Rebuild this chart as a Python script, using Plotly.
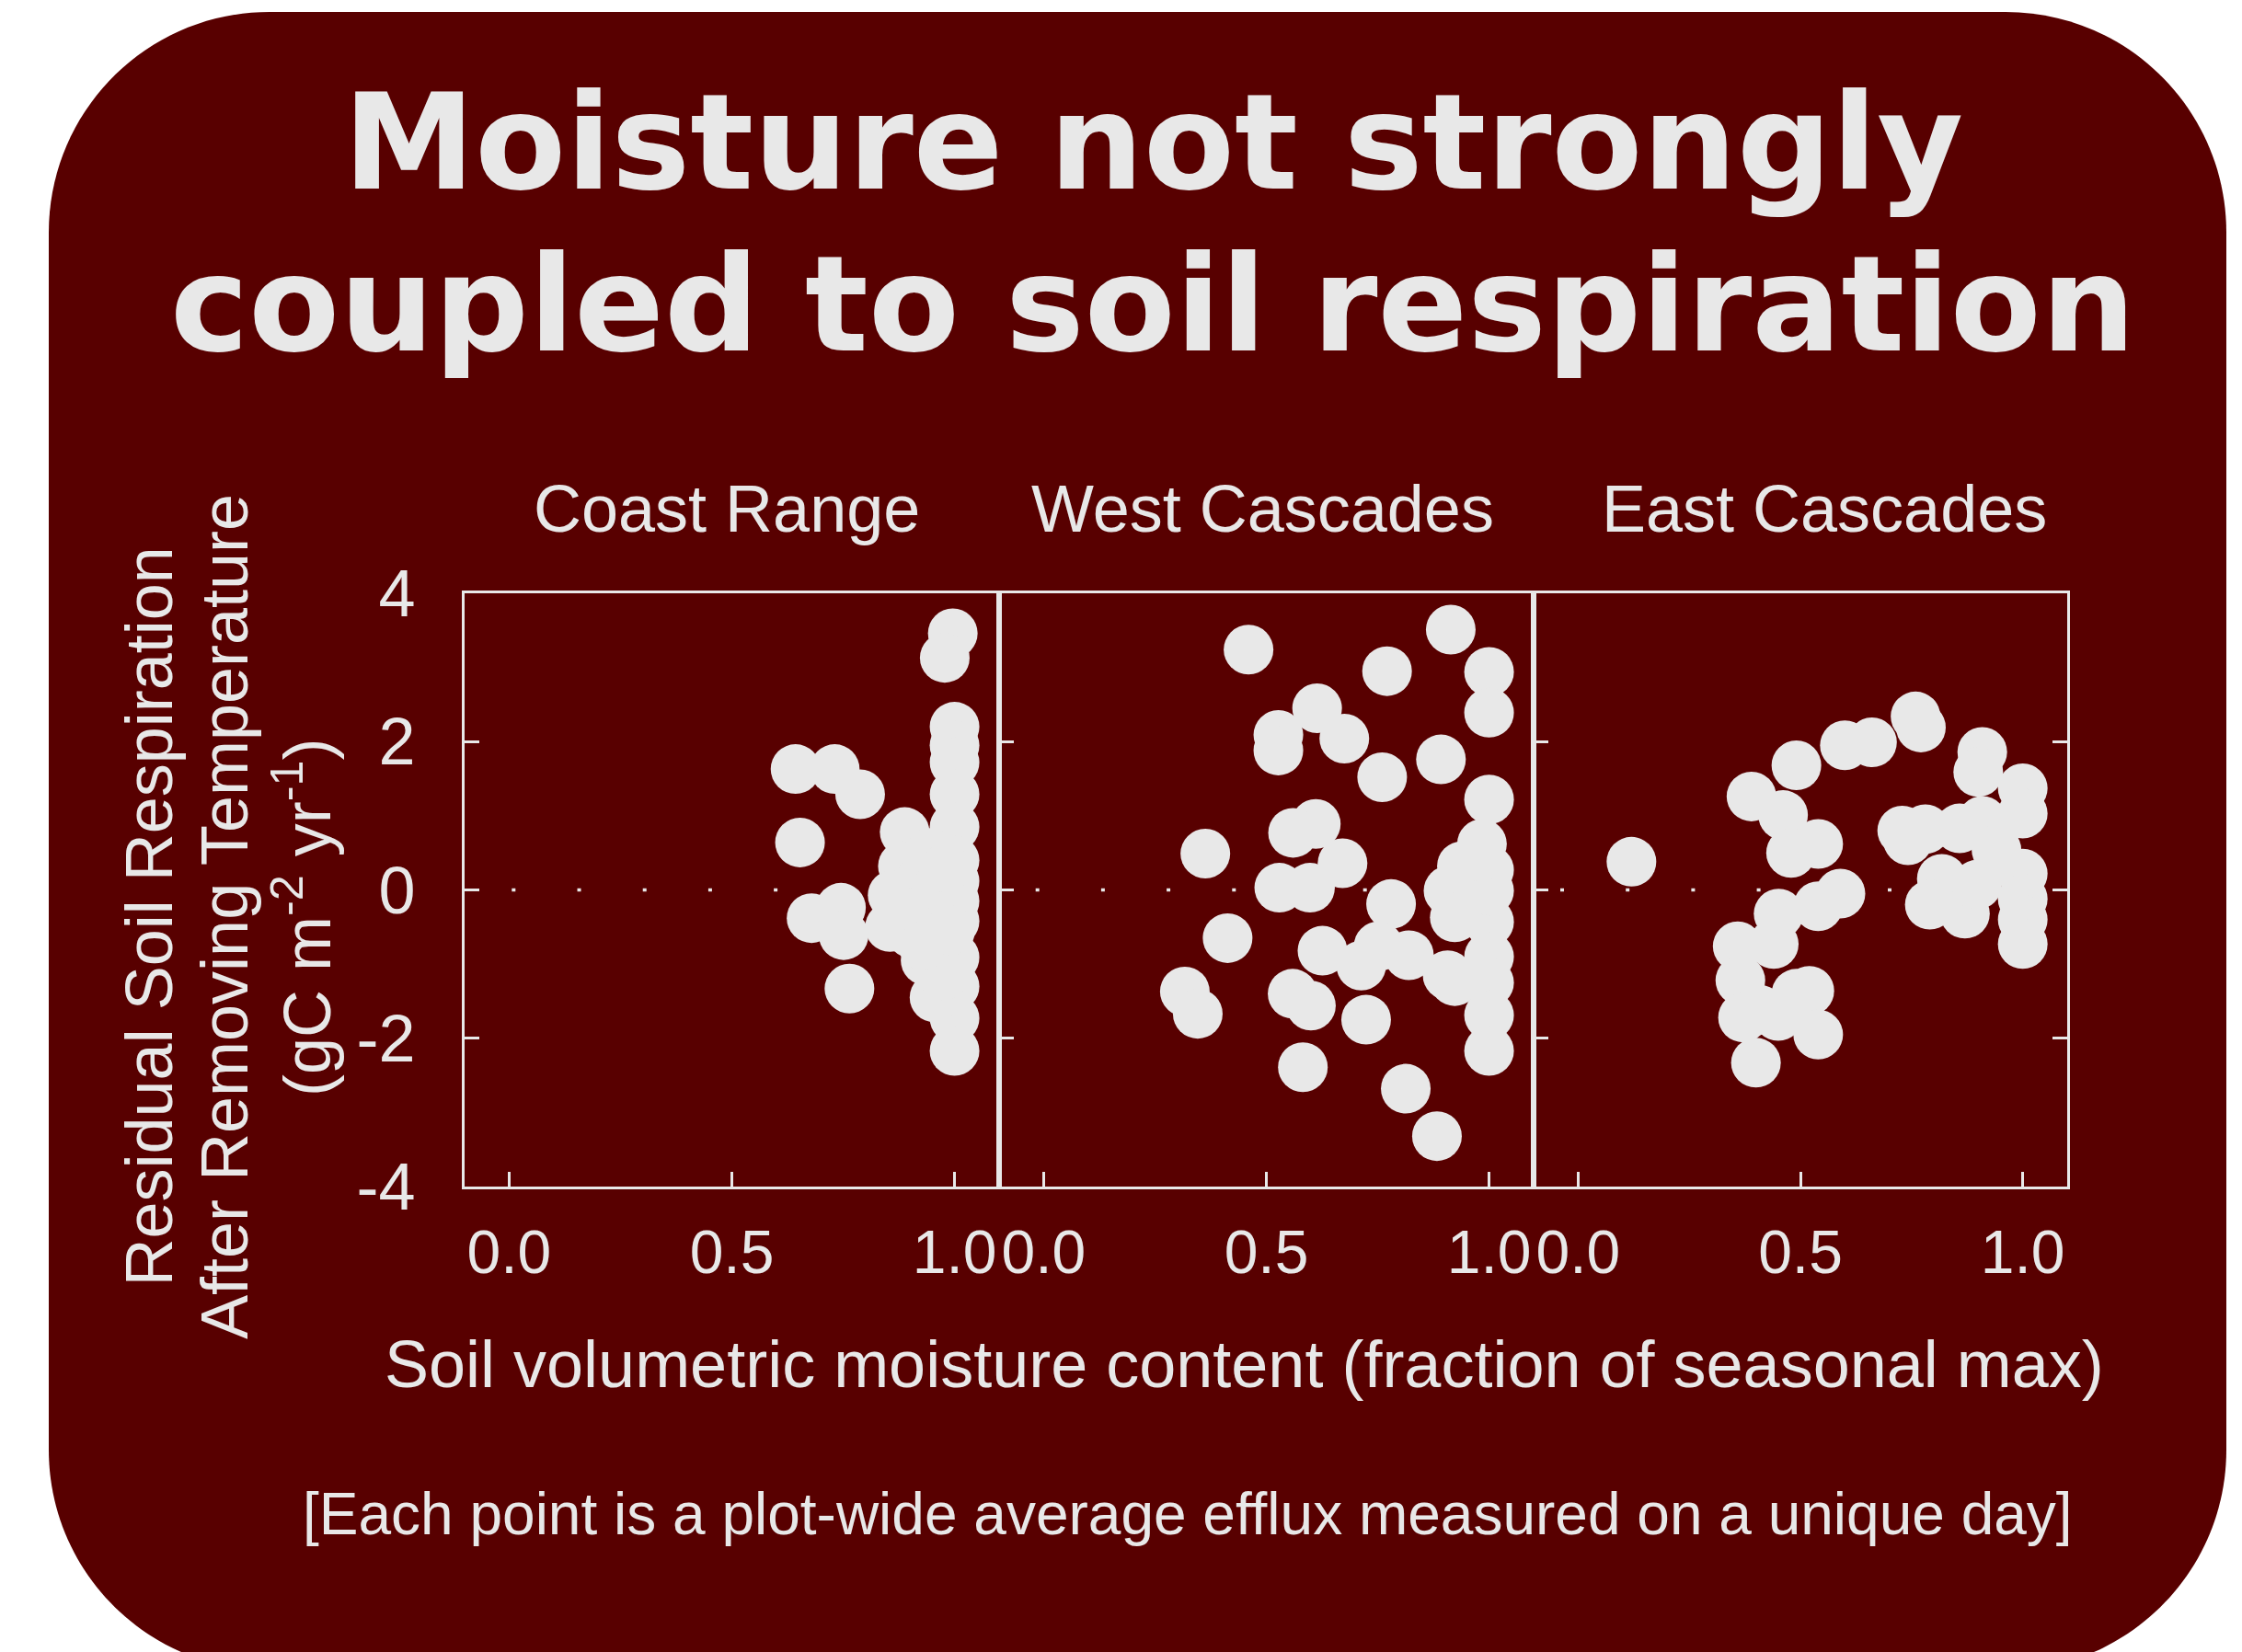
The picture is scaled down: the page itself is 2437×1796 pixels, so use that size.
import plotly.graph_objects as go

W, H = 2437, 1796
BG = "#580000"
FG = "#E8E8E8"
SANS = "Liberation Sans, Arial, Helvetica, sans-serif"

# ---------------- data ----------------
panel_names = ["Coast Range", "West Cascades", "East Cascades"]

coast_x = [0.996, 0.978, 1.000, 1.000, 1.000, 1.000, 1.000, 1.000, 1.000, 1.000,
           1.000, 1.000, 1.000, 1.000, 1.000, 0.643, 0.731, 0.788, 0.653, 0.888,
           0.679, 0.745, 0.751, 0.764, 0.884, 0.861, 0.855, 0.902, 0.935, 0.955,
           0.925, 0.950, 0.945, 0.970, 0.910, 0.965, 0.975, 0.930, 0.980, 0.990]
coast_y = [3.46, 3.13, 2.20, 1.95, 1.72, 1.29, 0.85, 0.40, 0.12, -0.15,
           -0.42, -0.91, -1.30, -1.73, -2.17, 1.63, 1.63, 1.29, 0.64, 0.78,
           -0.38, -0.24, -0.61, -1.33, 0.32, -0.07, -0.50, -0.58, -0.95, -1.45,
           0.15, -0.25, 0.50, -0.70, -0.30, 0.05, -1.15, -0.75, 0.30, -0.55]

west_x = [0.914, 0.460, 0.771, 1.000, 1.000, 0.614, 0.527, 0.527, 0.675, 0.760,
          0.892, 1.000, 0.611, 0.560, 0.363, 0.671, 0.529, 0.598, 0.780, 0.413,
          0.626, 0.713, 0.820, 0.752, 0.317, 0.346, 0.559, 0.600, 0.724, 0.582,
          0.813, 0.883, 0.984, 1.000, 0.939, 0.909, 0.923, 1.000, 1.000, 0.907,
          0.923, 1.000, 1.000, 1.000, 1.000, 0.980]
west_y = [3.51, 3.24, 2.95, 2.94, 2.39, 2.45, 2.09, 1.88, 2.04, 1.52,
          1.76, 1.22, 0.89, 0.77, 0.49, 0.36, 0.03, 0.03, -0.19, -0.65,
          -0.82, -1.02, -0.88, -0.76, -1.37, -1.67, -1.40, -1.56, -1.75, -2.39,
          -2.68, -3.32, 0.62, 0.27, 0.32, -0.01, -0.37, -0.43, -0.90, -1.15,
          -1.23, -1.25, -1.69, -2.17, -0.01, 0.45]

east_x = [0.120, 0.390, 0.461, 0.491, 0.479, 0.540, 0.600, 0.661, 0.759, 0.771,
          0.909, 0.900, 1.000, 1.000, 0.729, 0.742, 0.781, 0.858, 0.909, 0.941,
          1.000, 1.000, 1.000, 1.000, 0.818, 0.791, 0.870, 0.897, 0.590, 0.540,
          0.451, 0.440, 0.359, 0.365, 0.371, 0.400, 0.491, 0.520, 0.450, 0.540,
          0.410]
east_y = [0.38, 1.26, 1.01, 1.68, 0.50, 0.62, 1.95, 1.99, 2.34, 2.19,
          1.86, 1.59, 1.37, 1.03, 0.80, 0.67, 0.82, 0.83, 0.93, 0.54,
          0.22, -0.12, -0.40, -0.73, 0.15, -0.20, -0.32, 0.07, -0.05, -0.22,
          -0.32, -0.73, -0.76, -1.22, -1.72, -2.33, -1.40, -1.36, -1.70, -1.95,
          -1.62]

x_tick_vals = [0.0, 0.5, 1.0]
x_tick_text = ["0.0", "0.5", "1.0"]
y_tick_vals = [-4, -2, 0, 2, 4]
y_tick_text = ["-4", "-2", "0", "2", "4"]
x_range = [-0.1, 1.1]
y_range = [-4, 4]

series = [(coast_x, coast_y), (west_x, west_y), (east_x, east_y)]

# ---------------- helpers (pixel -> paper) ----------------
def px(x):
    return x / W


def py(y):
    return 1 - y / H


x_domains = [(505, 1086), (1086, 1667), (1667, 2247)]
y_domain = [py(1290), py(645)]

fig = go.Figure()

for i, (xs, ys) in enumerate(series):
    sfx = "" if i == 0 else str(i + 1)
    fig.add_trace(go.Scatter(
        x=xs, y=ys, mode="markers",
        marker=dict(size=54, color=FG, line=dict(width=0)),
        xaxis="x" + sfx, yaxis="y" + sfx,
        hoverinfo="skip", showlegend=False,
    ))

layout = dict(
    width=W, height=H,
    margin=dict(l=0, r=0, t=0, b=0, pad=0),
    paper_bgcolor="white",
    plot_bgcolor="rgba(0,0,0,0)",
    showlegend=False,
    font=dict(family=SANS, color=FG),
)

for i in range(3):
    sfx = "" if i == 0 else str(i + 1)
    d0, d1 = x_domains[i]
    layout["xaxis" + sfx] = dict(
        domain=[px(d0), px(d1)], range=x_range, anchor="y" + sfx,
        tickvals=x_tick_vals, ticktext=x_tick_text,
        ticks="inside", ticklen=16, tickwidth=3, tickcolor=FG,
        showline=True, linewidth=3, linecolor=FG, mirror=True,
        showgrid=False, zeroline=False,
        tickfont=dict(family=SANS, size=66, color=FG),
        ticklabelstandoff=12, automargin=False, fixedrange=True,
    )
    layout["yaxis" + sfx] = dict(
        domain=y_domain, range=y_range, anchor="x" + sfx,
        tickvals=y_tick_vals, ticktext=y_tick_text,
        ticks="inside", ticklen=16, tickwidth=3, tickcolor=FG,
        showline=True, linewidth=3, linecolor=FG,
        mirror="ticks" if i == 2 else True,
        showgrid=False, zeroline=False,
        showticklabels=(i == 0),
        tickfont=dict(family=SANS, size=72, color=FG),
        ticklabelstandoff=36, automargin=False, fixedrange=True,
    )

fig.update_layout(**layout)

# ---------------- background rounded panel ----------------
L, R, T, B, r = 53, 2420, 13, 1816, 240
k = 0.5523 * r


def P(x, y):
    return f"{px(x):.6f},{py(y):.6f}"


path = (
    f"M {P(L + r, T)} L {P(R - r, T)} "
    f"C {P(R - r + k, T)} {P(R, T + r - k)} {P(R, T + r)} "
    f"L {P(R, B - r)} "
    f"C {P(R, B - r + k)} {P(R - r + k, B)} {P(R - r, B)} "
    f"L {P(L + r, B)} "
    f"C {P(L + r - k, B)} {P(L, B - r + k)} {P(L, B - r)} "
    f"L {P(L, T + r)} "
    f"C {P(L, T + r - k)} {P(L + r - k, T)} {P(L + r, T)} Z"
)
shapes = [dict(type="path", path=path, xref="paper", yref="paper",
               fillcolor=BG, line=dict(width=0), layer="below")]

# dotted zero reference line in each panel
zero_starts = [0.006, -0.018, -0.040]
for i in range(3):
    sfx = "" if i == 0 else str(i + 1)
    shapes.append(dict(type="line", xref="x" + sfx, yref="y" + sfx,
                       x0=zero_starts[i], x1=x_range[1], y0=0, y1=0,
                       line=dict(color=FG, width=3.5, dash="4px,67.2px"),
                       layer="below"))
fig.update_layout(shapes=shapes)

# ---------------- text ----------------
ann = []
title_lines = ["Moisture not strongly", "coupled to soil respiration"]
title_y = [155, 330.5]
for txt, yy in zip(title_lines, title_y):
    ann.append(dict(text=txt, x=px(1253), y=py(yy), xref="paper", yref="paper",
                    xanchor="center", yanchor="middle", showarrow=False,
                    font=dict(family="DejaVu Sans", size=144, color=FG, weight="bold")))

panel_cx = [789.6, 1372, 1982.5]
for name, cx in zip(panel_names, panel_cx):
    ann.append(dict(text=name, x=px(cx), y=py(552.6), xref="paper", yref="paper",
                    xanchor="center", yanchor="middle", showarrow=False,
                    font=dict(family=SANS, size=72, color=FG)))

ylabel_lines = ["Residual Soil Respiration", "After Removing Temperature",
                "(gC m<sup>-2</sup> yr<sup>-1</sup>)"]
ylabel_x = [161.5, 244, 328]
for txt, xx in zip(ylabel_lines, ylabel_x):
    ann.append(dict(text=txt, x=px(xx), y=py(997), xref="paper", yref="paper",
                    xanchor="center", yanchor="middle", showarrow=False, textangle=-90,
                    font=dict(family=SANS, size=72, color=FG)))

ann.append(dict(text="Soil volumetric moisture content (fraction of seasonal max)",
                x=px(1352), y=py(1483), xref="paper", yref="paper",
                xanchor="center", yanchor="middle", showarrow=False,
                font=dict(family=SANS, size=72, color=FG)))
ann.append(dict(text="[Each point is a plot-wide average efflux measured on a unique day]",
                x=px(1291), y=py(1646), xref="paper", yref="paper",
                xanchor="center", yanchor="middle", showarrow=False,
                font=dict(family=SANS, size=64, color=FG)))
fig.update_layout(annotations=ann)

fig.write_html("out.html", config={"displayModeBar": False},
               post_script="document.body.style.margin='0';document.body.style.overflow='hidden';")
